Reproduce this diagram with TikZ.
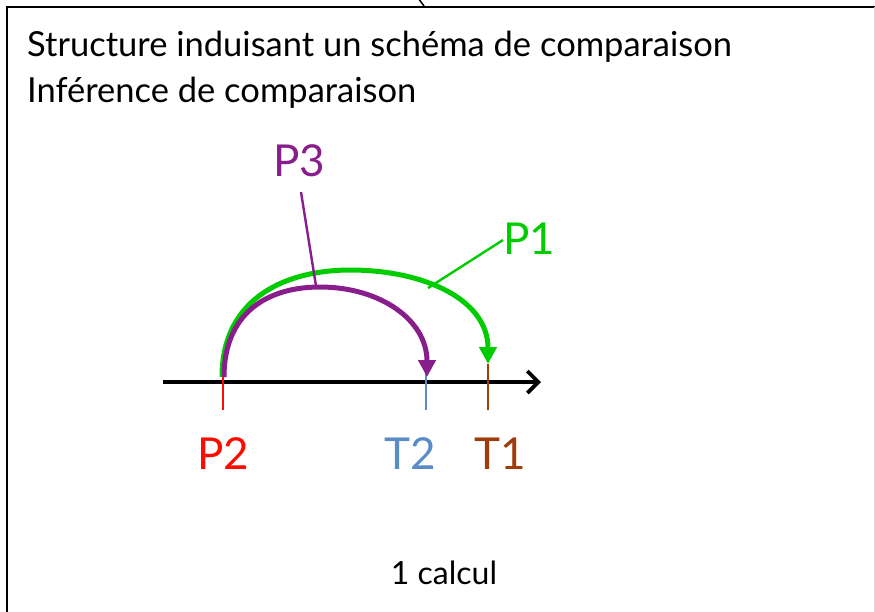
\documentclass[tikz,border=0pt]{standalone}
\usepackage{fontspec}
\setmainfont{Lato}
\usetikzlibrary{arrows.meta}
\definecolor{cgreen}{RGB}{0,204,0}
\definecolor{cpurple}{RGB}{136,30,140}
\definecolor{cred}{RGB}{255,10,0}
\definecolor{cblue}{RGB}{90,140,200}
\definecolor{cbrown}{RGB}{160,60,10}
\tikzset{
  frame/.style={line width=2.5pt, draw=black},
  maintext/.style={anchor=base west, inner sep=0pt, font=\fontsize{34.5}{40}\selectfont},
  lab/.style={inner sep=0pt, font=\fontsize{44}{50}\selectfont},
  tick/.style={line width=2.6pt},
  arcline/.style={line width=5pt, -{Triangle[length=17pt,width=17pt]}},
  leader/.style={line width=2.4pt},
  axis/.style={line width=3.2pt, -{Straight Barb[length=11pt,width=22pt,line width=3.8pt]}}
}
\begin{document}
\begin{tikzpicture}[x=1pt,y=-1pt]
\useasboundingbox (0,0) rectangle (875,611);
% frame
\draw[frame] (7,640) -- (7,7) -- (880,7);
\draw[line width=0.8pt, draw=black!15] (874,7) -- (874,640);
\coordinate (topa) at (418,-2);
\coordinate (topb) at (424,6);
\draw[line width=1.5pt] (topa) -- (topb);
% texts
\node[maintext] (t1) at (27,56) {Structure induisant un schéma de comparaison};
\node[maintext] (t2) at (27,102) {Inférence de comparaison};
% axis
\coordinate (ax0) at (163,382);
\coordinate (ax1) at (541,382);
\draw[axis] (ax0) -- (ax1);
% ticks
\coordinate (p2top) at (223,376);
\coordinate (p2bot) at (223,410);
\coordinate (t2top) at (426,350);
\coordinate (t2bot) at (426,410);
\coordinate (t1top) at (488,364);
\coordinate (t1bot) at (488,410);
\draw[tick, cred] (p2top) -- (p2bot);
\draw[tick, cblue] (t2top) -- (t2bot);
\draw[tick, cbrown] (t1top) -- (t1bot);
% labels
\node[lab, text=cred, anchor=base] (lp2) at (223,469) {P2};
\node[lab, text=cblue, anchor=base] (lt2) at (410,469) {T2};
\node[lab, text=cbrown, anchor=base] (lt1) at (500,469) {T1};
\node[lab, text=cpurple, anchor=base] (lp3) at (299,176) {P3};
\node[lab, text=cgreen, anchor=base] (lp1) at (529,254) {P1};
% arcs
\draw[arcline, cgreen] (222,377) .. controls (222,295) and (290,270) .. (350,270)
   .. controls (425,270) and (488,300) .. (t1top);
\draw[arcline, cpurple] (224,377) .. controls (224,315) and (265,287) .. (320,287)
   .. controls (380,287) and (427,320) .. (427,377);
% leaders
\coordinate (p3end) at (316,286);
\coordinate (p1end) at (428,288);
\draw[leader, cpurple] (301,192) -- (p3end);
\draw[leader, cgreen] (503,240) -- (p1end);
% bottom
\node[inner sep=0pt, anchor=base, font=\fontsize{32}{38}\selectfont] (calc) at (444,584) {1 calcul};
\end{tikzpicture}
\end{document}
